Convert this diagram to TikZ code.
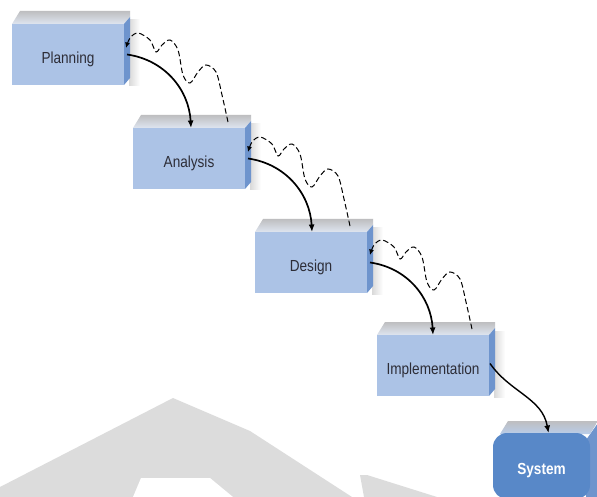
\documentclass[tikz,border=0pt]{standalone}
\usepackage{fontspec}
\newfontfamily\lblfont[FakeStretch=0.85]{Liberation Sans}
\usetikzlibrary{calc,arrows.meta}
\definecolor{frontblue}{RGB}{172,195,230}
\definecolor{sideblue}{RGB}{110,148,205}
\definecolor{topgray}{RGB}{190,190,192}
\definecolor{toplight}{RGB}{222,229,240}
\definecolor{sysblue}{RGB}{88,136,200}
\definecolor{systop}{RGB}{185,205,234}
\definecolor{labelgray}{RGB}{45,45,55}
\definecolor{wmgray}{RGB}{220,220,220}
\tikzset{
  frontface/.style={fill=frontblue, draw=none, minimum width=112pt, minimum height=61pt,
    anchor=north west, inner sep=0pt, outer sep=0pt},
  lbl/.style={font=\lblfont\fontsize{16}{17}\selectfont, text=labelgray,
    text height=11.5pt, text depth=0pt, inner sep=0pt},
  syslbl/.style={font=\lblfont\bfseries\fontsize{16}{17}\selectfont, text=white,
    text height=11.5pt, text depth=0pt, inner sep=0pt},
  flow/.style={line width=1.7pt, -{Latex[length=7.5pt,width=6pt]}},
  backflow/.style={line width=1pt, dash pattern=on 5.5pt off 3pt, -{Latex[length=5.5pt,width=5pt]}},
}
\newcommand\stepblock[4]{%
  \fill[left color=gray!30, right color=white] (#2+117,#3-4) rectangle (#2+128,#3+62);
  \shade[top color=topgray, bottom color=toplight]
    (#2,#3) -- (#2+112,#3) -- (#2+118,#3-7) -- (#2+118,#3-13) -- (#2+8,#3-13) -- cycle;
  \fill[sideblue] (#2+112,#3) -- (#2+118,#3-7) -- (#2+118,#3+54) -- (#2+112,#3+61) -- cycle;
  \node[frontface] (#1) at (#2,#3) {};
  \node[lbl] (#1-t) at ($(#1.center)+(0,3)$) {#4};
}
\newcommand\backloop[2]{%
  \coordinate (#2-s) at ($(#2.north west)+(95,-6)$);
  \begin{scope}[shift={(#2-s)}]
    \draw[backflow] plot[smooth, tension=0.55] coordinates {(0,0) (-6,-27) (-12,-50) (-22,-57)
      (-30,-50) (-38,-39) (-45,-47) (-50,-72) (-58,-82) (-66,-77) (-72,-70) (-78,-82)
      (-90,-89) (-98,-84) (-102,-74)};
  \end{scope}
}
\begin{document}
\begin{tikzpicture}[x=1pt, y=-1pt]
\useasboundingbox[fill=white] (0,0) rectangle (597,497);
% watermark
\fill[wmgray] (0,487) -- (173,398) -- (250,431) -- (352,497) -- (0,497) -- cycle;
\fill[white] (133,497) -- (141,478) -- (210,478) -- (233,497) -- cycle;
\fill[wmgray] (360,475) -- (367,475) -- (437,497) -- (364,497) -- cycle;
% blocks
\stepblock{P}{12}{24}{Planning}
\stepblock{A}{133}{128}{Analysis}
\stepblock{D}{255}{232}{Design}
\stepblock{I}{377}{335}{Implementation}
% system
\fill[sideblue] (586,440) -- (598,423) -- (598,497) -- (586,497) -- cycle;
\shade[top color=topgray, bottom color=systop] (500,434) -- (590,434) -- (598,421) -- (508,421) -- cycle;
\node[fill=sysblue, draw=none, rounded corners=14pt, minimum width=97pt, minimum height=66pt,
  anchor=north west, inner sep=0pt, outer sep=0pt] (S) at (493,433) {};
\node[syslbl] (S-t) at ($(S.center)+(0,2.5)$) {System};
% forward arrows
\draw[flow] ($(P.east)+(3,0)$) to[out=-8,in=93] ($(A.north)+(2,0)$);
\draw[flow] ($(A.east)+(3,0)$) to[out=-8,in=93] ($(D.north)+(1,0)$);
\draw[flow] ($(D.east)+(3,0)$) to[out=-8,in=93] (I.north);
\draw[flow, line width=1.4pt] ($(I.east)+(1,-2)$) to[out=-55,in=100] ($(S.north)+(7,0)$);
% feedback arrows
\backloop{P}{A}
\backloop{A}{D}
\backloop{D}{I}
\end{tikzpicture}
\end{document}
